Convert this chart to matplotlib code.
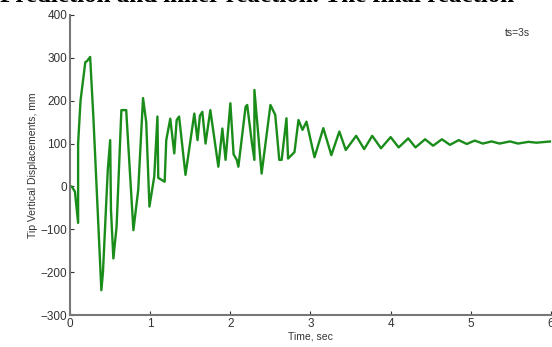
import numpy as np
import matplotlib.pyplot as plt

plt.rcParams['font.family'] = ['Liberation Sans', 'DejaVu Sans']

# time (s) and tip vertical displacement (mm)
t = [0.00, 0.02, 0.06, 0.10, 0.10, 0.13, 0.19, 0.21, 0.25, 0.29, 0.39, 0.41,
     0.47, 0.50, 0.51, 0.54, 0.58, 0.64, 0.70, 0.79, 0.85, 0.91, 0.95, 0.99,
     1.05, 1.09, 1.10, 1.18, 1.20, 1.25, 1.30, 1.33, 1.36, 1.44, 1.55, 1.59,
     1.62, 1.65, 1.69, 1.75, 1.85, 1.90, 1.94, 2.00, 2.04, 2.08, 2.10, 2.19,
     2.21, 2.27, 2.30, 2.30, 2.39, 2.50, 2.56, 2.61, 2.64, 2.70, 2.72, 2.80,
     2.85, 2.90, 2.95, 3.05, 3.16, 3.26, 3.36, 3.44, 3.57, 3.67, 3.77, 3.88,
     4.00, 4.10, 4.22, 4.31, 4.43, 4.53, 4.64, 4.74, 4.85, 4.95, 5.05, 5.15,
     5.26, 5.36, 5.49, 5.59, 5.72, 5.82, 6.00]
disp = [0, 0, -12, -85, 100, 200, 290, 292, 302, 163, -242, -200,
        38, 108, -55, -168, -94, 178, 178, -102, -8, 206, 150, -47,
        23, 163, 20, 11, 108, 158, 77, 155, 163, 27, 170, 108,
        165, 174, 100, 178, 46, 135, 62, 194, 75, 62, 46, 186,
        190, 100, 62, 225, 30, 190, 167, 62, 62, 159, 65, 80,
        155, 132, 151, 68, 136, 73, 128, 85, 118, 87, 118, 89,
        115, 91, 112, 91, 110, 95, 110, 97, 108, 99, 107, 100,
        105, 100, 105, 100, 104, 102, 105]

xticks = [0, 1, 2, 3, 4, 5, 6]
yticks = [-300, -200, -100, 0, 100, 200, 300, 400]

fig = plt.figure(figsize=(5.52, 3.47), dpi=100)
ax = fig.add_axes([0.127, 0.092, 0.871, 0.865])

ax.plot(t, disp, color='#1a8c1a', lw=1.7)

ax.set_xlim(0, 6)
ax.set_ylim(-300, 400)
ax.set_xticks(xticks)
ax.set_yticks(yticks)
ax.tick_params(direction='in', length=3, labelsize=8.5, colors='#333333', pad=2)
for s in ['top', 'right']:
    ax.spines[s].set_visible(False)
for s in ['left', 'bottom']:
    ax.spines[s].set_color('#777777')
    ax.spines[s].set_linewidth(1.5)

ax.set_xlabel('Time, sec', fontsize=7.5, color='#333333', labelpad=1)
ax.set_ylabel('Tip Vertical Displacements, mm', fontsize=7.5, color='#333333', labelpad=2)
ax.text(0.93, 0.93, 'ts=3s', transform=ax.transAxes, fontsize=7.5, color='#333333', ha='center')

# caption of the page, cut at the top
fig.text(0.0, 0.993, 'Prediction and inner reaction. The final reaction',
         family='Liberation Serif', fontsize=18, weight='bold', va='baseline')

fig.savefig('out.png', dpi=100)
